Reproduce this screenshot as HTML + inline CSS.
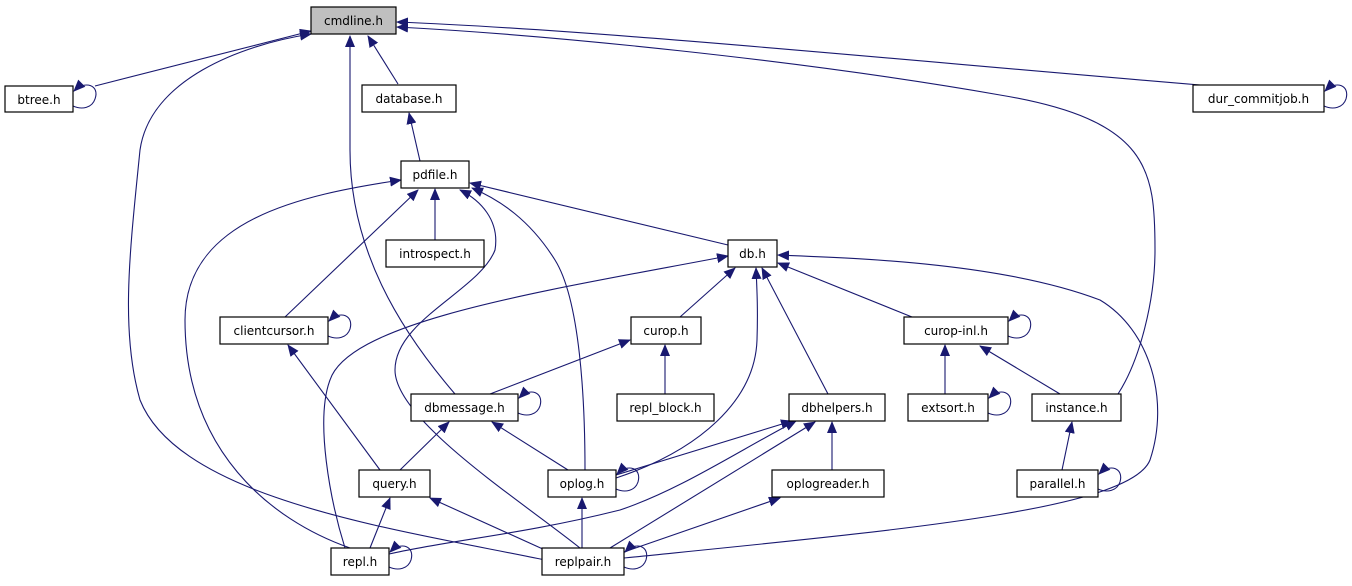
<!DOCTYPE html>
<html><head><meta charset="utf-8"><style>
html,body{margin:0;padding:0;background:#fff;}
svg text{font-family:"DejaVu Sans","Liberation Sans",sans-serif;font-size:12px;fill:#000;text-anchor:middle;}
</style></head><body>
<svg width="1352" height="581" viewBox="0 0 1352 581" xmlns="http://www.w3.org/2000/svg">
<defs><marker id="a" markerWidth="12" markerHeight="10" refX="11" refY="5" orient="auto" markerUnits="userSpaceOnUse"><path d="M0,0 L12,5 L0,10 z" fill="#191970"/></marker></defs>
<g fill="none" stroke="#191970" stroke-width="1.1" marker-end="url(#a)">
<path d="M95,86 L311,31"/>
<path d="M73,106 C82,110 92,108 95,99 C100,85 85,80 74,91"/>
<path d="M398,84 L368,36"/>
<path d="M1200,85 C900,60 600,30 397,22"/>
<path d="M1324,106 C1333,110 1343,108 1346,99 C1350,85 1336,80 1325,91"/>
<path d="M420,161 L409,113"/>
<path d="M1118,394 C1140,360 1155,300 1155,250 C1155,170 1150,120 1000,95 C800,60 550,35 397,27"/>
<path d="M545,560 C400,530 180,500 140,400 C120,330 130,250 140,150 C150,80 240,45 311,34"/>
<path d="M455,394 C400,330 350,250 350,150 C350,100 350,60 350,36"/>
<path d="M435,240 L435,189"/>
<path d="M728,245 L470,183"/>
<path d="M285,317 L418,190"/>
<path d="M350,548 C270,520 185,450 185,320 C185,220 300,195 401,180"/>
<path d="M580,548 C520,500 395,420 395,370 C395,320 480,290 495,250 C500,220 480,200 460,190"/>
<path d="M585,470 C585,400 580,300 555,260 C530,220 500,200 472,188"/>
<path d="M328,336 C337,340 347,338 350,329 C354,315 340,310 329,321"/>
<path d="M680,317 L735,268"/>
<path d="M912,317 L778,263"/>
<path d="M828,394 L762,268"/>
<path d="M616,478 C700,450 755,400 757,340 C758,310 757,290 756,268"/>
<path d="M345,548 C330,500 315,420 330,380 C350,320 550,290 728,256"/>
<path d="M624,558 C900,530 1130,510 1150,460 C1170,400 1150,330 1100,300 C1000,262 850,258 778,255"/>
<path d="M1008,336 C1017,340 1027,338 1030,329 C1034,315 1020,310 1009,321"/>
<path d="M490,394 L630,340"/>
<path d="M665,394 L665,345"/>
<path d="M945,394 L945,345"/>
<path d="M988,413 C997,417 1007,415 1010,406 C1014,392 1000,387 989,398"/>
<path d="M1060,394 L980,346"/>
<path d="M1062,470 L1072,422"/>
<path d="M1098,489 C1107,493 1117,491 1120,482 C1124,468 1110,463 1099,474"/>
<path d="M518,413 C527,417 537,415 540,406 C544,392 530,387 519,398"/>
<path d="M380,470 L288,345"/>
<path d="M400,470 L449,422"/>
<path d="M568,470 L492,422"/>
<path d="M616,475 L792,421"/>
<path d="M389,554 C450,540 520,535 620,510 C680,490 740,450 796,421"/>
<path d="M610,548 L815,422"/>
<path d="M832,470 L832,422"/>
<path d="M616,489 C625,493 635,491 638,482 C642,468 628,463 617,474"/>
<path d="M582,548 L582,498"/>
<path d="M624,552 L780,498"/>
<path d="M370,548 L390,498"/>
<path d="M545,550 L430,498"/>
<path d="M389,567 C398,571 408,569 411,560 C415,546 401,541 390,552"/>
<path d="M624,567 C633,571 643,569 646,560 C650,546 636,541 625,552"/>
</g>
<g stroke="#000" stroke-width="1.2" fill="#fff">
<rect x="311" y="7" width="85" height="27" fill="#bfbfbf"/>
<rect x="5" y="86" width="68" height="26"/>
<rect x="362" y="85" width="94" height="27"/>
<rect x="1193" y="85" width="131" height="27"/>
<rect x="401" y="161" width="68" height="27"/>
<rect x="386" y="240" width="98" height="27"/>
<rect x="728" y="240" width="49" height="27"/>
<rect x="220" y="317" width="108" height="27"/>
<rect x="631" y="317" width="70" height="27"/>
<rect x="904" y="317" width="104" height="27"/>
<rect x="411" y="394" width="107" height="27"/>
<rect x="617" y="394" width="97" height="27"/>
<rect x="789" y="394" width="96" height="27"/>
<rect x="908" y="394" width="80" height="27"/>
<rect x="1032" y="394" width="89" height="27"/>
<rect x="359" y="470" width="71" height="27"/>
<rect x="548" y="470" width="68" height="27"/>
<rect x="772" y="470" width="112" height="27"/>
<rect x="1017" y="470" width="81" height="27"/>
<rect x="331" y="548" width="58" height="27"/>
<rect x="542" y="548" width="82" height="27"/>
</g>
<g>
<text x="353.5" y="25">cmdline.h</text>
<text x="39" y="104">btree.h</text>
<text x="409" y="103">database.h</text>
<text x="1258.5" y="103">dur_commitjob.h</text>
<text x="435" y="179">pdfile.h</text>
<text x="435" y="258">introspect.h</text>
<text x="752.5" y="258">db.h</text>
<text x="274" y="335">clientcursor.h</text>
<text x="666" y="335">curop.h</text>
<text x="956" y="335">curop-inl.h</text>
<text x="464.5" y="412">dbmessage.h</text>
<text x="665.5" y="412">repl_block.h</text>
<text x="837" y="412">dbhelpers.h</text>
<text x="948" y="412">extsort.h</text>
<text x="1076.5" y="412">instance.h</text>
<text x="394.5" y="488">query.h</text>
<text x="582" y="488">oplog.h</text>
<text x="828" y="488">oplogreader.h</text>
<text x="1057.5" y="488">parallel.h</text>
<text x="360" y="566">repl.h</text>
<text x="583" y="566">replpair.h</text>
</g>
</svg>
</body></html>
